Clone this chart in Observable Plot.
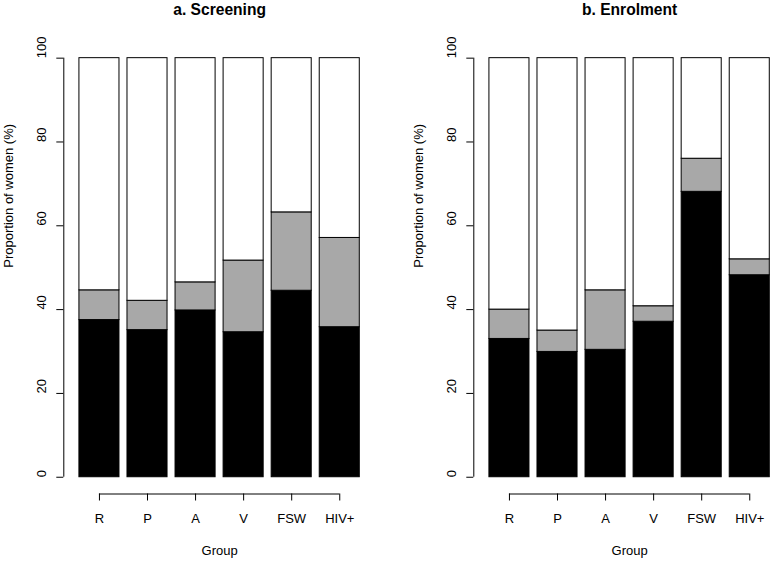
<!DOCTYPE html>
<html><head><meta charset="utf-8">
<script src="https://cdn.jsdelivr.net/npm/d3@7"></script>
<script src="https://cdn.jsdelivr.net/npm/@observablehq/plot@0.6"></script>
<style>
html,body{margin:0;padding:0;background:#fff;}
#wrap{width:772px;height:561px;overflow:hidden;display:flex;background:#fff;}
#wrap > *{flex:0 0 auto;display:block;}
</style></head><body><div id="wrap"></div>
<script>
const groups = ["R", "P", "A", "V", "FSW", "HIV+"];
const yTicks = [0, 20, 40, 60, 80, 100];
const screeningLower = [37.5, 35.1, 39.8, 34.6, 44.5, 35.8];
const screeningUpper = [44.6, 42.1, 46.5, 51.7, 63.2, 57.1];
const enrolmentLower = [33.0, 29.9, 30.4, 37.1, 68.1, 48.2];
const enrolmentUpper = [40.0, 35.0, 44.6, 40.8, 76.0, 52.0];
const titles = ["a. Screening", "b. Enrolment"];
const xLabel = "Group";
const yLabel = "Proportion of women (%)";

const FONT = "'Liberation Sans', Arial, Helvetica, sans-serif";
const partFill = {black: "#000000", gray: "#a8a8a8", white: "#ffffff"};

function panel(title, lower, upper) {
  const mids = groups.map((g, i) => 0.7 + 1.2 * i);
  const xDom = [-0.19, 7.59];
  const rows = [];
  groups.forEach((g, i) => {
    const x1 = mids[i] - 0.5, x2 = mids[i] + 0.5;
    rows.push({g, x1, x2, y1: 0, y2: lower[i], part: "black"});
    rows.push({g, x1, x2, y1: lower[i], y2: upper[i], part: "gray"});
    rows.push({g, x1, x2, y1: upper[i], y2: 100, part: "white"});
  });
  return Plot.plot({
    width: 410, height: 561,
    marginLeft: 63.3, marginRight: 35.1, marginTop: 40.9, marginBottom: 67.5,
    x: {domain: xDom, label: null},
    y: {domain: [-4, 104], label: null},
    style: {fontFamily: FONT, fontSize: "13px", background: "white", color: "black"},
    marks: [
      Plot.rect(rows, {x1: "x1", x2: "x2", y1: "y1", y2: "y2", fill: d => partFill[d.part], stroke: "black", strokeWidth: 1}),
      Plot.ruleX([xDom[0]], {y1: 0, y2: 100, stroke: "black"}),
      Plot.axisY({ticks: yTicks, tickSize: 7, tickFormat: () => "", label: null}),
      Plot.text(yTicks, {y: d => d, frameAnchor: "left", dx: -22.1, rotate: -90, text: d => String(d), fontSize: 13, fill: "black"}),
      Plot.ruleY([-4], {x1: mids[0], x2: mids[mids.length - 1], stroke: "black"}),
      Plot.axisX({ticks: mids, tickSize: 7, tickPadding: 12.8, fontSize: 13, label: null,
        tickFormat: d => groups[mids.findIndex(m => Math.abs(m - d) < 1e-9)]}),
      Plot.text([title], {frameAnchor: "top", lineAnchor: "bottom", dy: -26.2, fontWeight: "bold", fontSize: 15.6, fill: "black"}),
      Plot.text([xLabel], {frameAnchor: "bottom", lineAnchor: "bottom", dy: 60.5, fontSize: 13, fill: "black"}),
      Plot.text([yLabel], {frameAnchor: "left", rotate: -90, dx: -54.5, fontSize: 13, fill: "black"})
    ]
  });
}

const wrap = document.getElementById("wrap");
wrap.append(panel(titles[0], screeningLower, screeningUpper));
wrap.append(panel(titles[1], enrolmentLower, enrolmentUpper));
</script>
</body></html>
